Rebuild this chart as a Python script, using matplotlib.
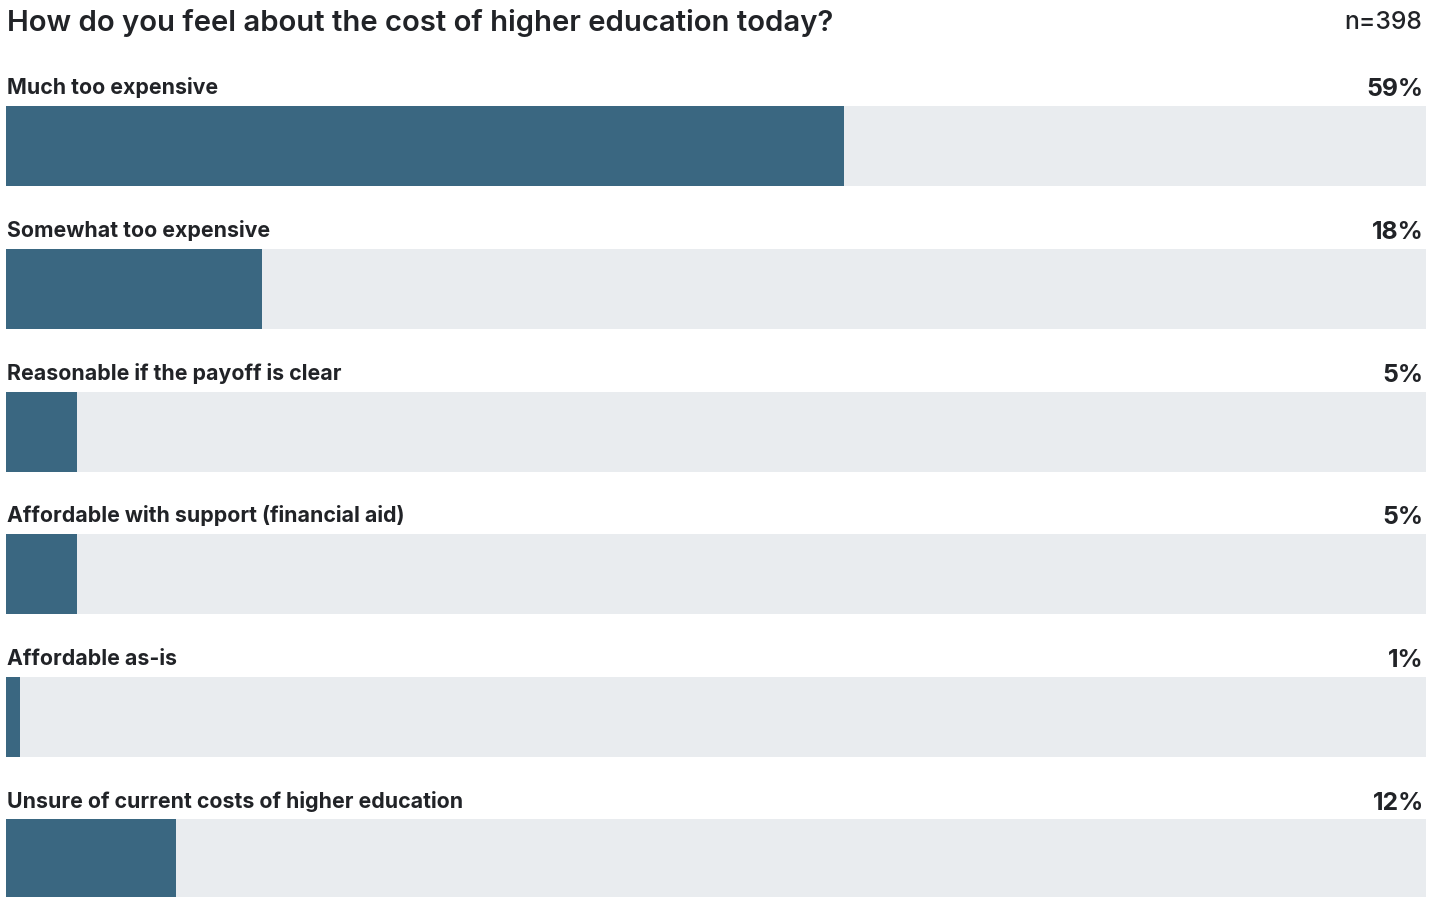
import matplotlib
matplotlib.use("Agg")
import matplotlib.pyplot as plt
from matplotlib import font_manager as fm

title = "How do you feel about the cost of higher education today?"
sample_size = "n=398"
answers = [
    "Much too expensive",
    "Somewhat too expensive",
    "Reasonable if the payoff is clear",
    "Affordable with support (financial aid)",
    "Affordable as-is",
    "Unsure of current costs of higher education",
]
shares = [59, 18, 5, 5, 1, 12]

BAR_COLOR = "#3a6781"
TRACK_COLOR = "#e9ecef"
TEXT_COLOR = "#212327"


def inter(style, size):
    """Pick the static Inter file for a weight so the variable font is skipped."""
    for f in fm.fontManager.ttflist:
        if f.fname.endswith(f"Inter-{style}.otf"):
            return fm.FontProperties(fname=f.fname, size=size)
    return fm.FontProperties(family="Inter", weight=style.lower(), size=size)


W, H = 1441, 897
fig = plt.figure(figsize=(W / 100, H / 100), dpi=100)
fig.patch.set_facecolor("white")

# one row = 142.6 px, bars 80 px tall, first bar centred at y=146 px
row_px = 142.6
first_center = 146.5
ax = fig.add_axes([6 / W, 0, 1420 / W, 1])
ax.set_xlim(0, 100)
ax.set_ylim((H - first_center) / row_px, -first_center / row_px)
ax.axis("off")

rows = list(range(len(answers)))
bar_h = 80 / row_px
ax.barh(rows, [100] * len(rows), height=bar_h, color=TRACK_COLOR, left=0)
ax.barh(rows, shares, height=bar_h, color=BAR_COLOR, left=0)

label_font = inter("Bold", 15.35)
value_font = inter("Bold", 17.8)
label_off = 52 / row_px
for i, (name, val) in enumerate(zip(answers, shares)):
    ax.text(0.08, i - label_off, name, fontproperties=label_font,
            color=TEXT_COLOR, va="baseline", ha="left")
    ax.text(99.85, i - label_off + 2 / row_px, f"{val}%", fontproperties=value_font,
            color=TEXT_COLOR, va="baseline", ha="right")

fig.text(7 / W, 1 - 31 / H, title, fontproperties=inter("SemiBold", 21.1),
         color=TEXT_COLOR, va="baseline", ha="left")
fig.text(1422 / W, 1 - 29 / H, sample_size, fontproperties=inter("Medium", 17.8),
         color=TEXT_COLOR, va="baseline", ha="right")

fig.savefig("out.png", dpi=100, facecolor="white")
